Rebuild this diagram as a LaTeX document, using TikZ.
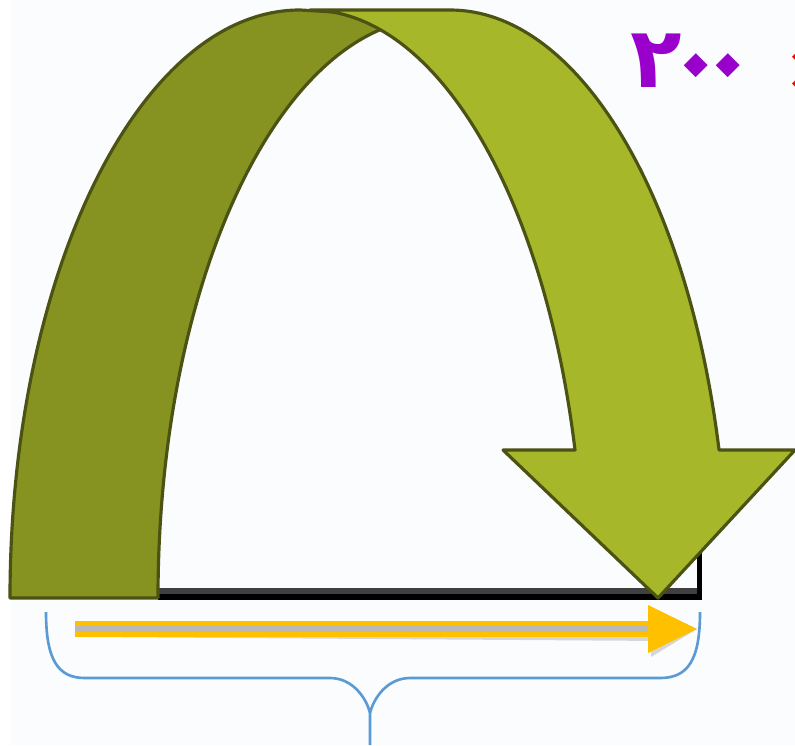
\documentclass[tikz,border=0pt]{standalone}
\usepackage{fontspec}
\usepackage{graphicx}
\usepackage{tikz}
\usetikzlibrary{arrows.meta}
\newfontfamily\arabicfont[Script=Arabic]{DejaVu Sans}
\definecolor{bgblue}{RGB}{250,252,254}
\definecolor{olivedark}{RGB}{134,147,32}
\definecolor{olivelight}{RGB}{166,183,42}
\definecolor{oliveline}{RGB}{75,82,19}
\definecolor{myyellow}{RGB}{255,192,0}
\definecolor{mypurple}{RGB}{153,0,204}
\definecolor{myred}{RGB}{255,0,0}
\definecolor{braceblue}{RGB}{91,155,213}
\newcommand{\pzero}{\makebox[9pt][c]{\raisebox{-0.6pt}{\rotatebox[origin=c]{45}{\fontsize{28}{28}\selectfont ۰}}}}

\begin{document}
\begin{tikzpicture}[x=0.01cm,y=0.01cm,
    band/.style={draw=oliveline,line width=0.9pt,line join=round},
    brace/.style={braceblue,line width=0.75pt}]
        \useasboundingbox (0,0) rectangle (795,745);
        \fill[white] (0,0) rectangle (795,745);
        \fill[bgblue] (10,0) rectangle (795,745);
        % base bar
        \fill[black] (158,145) rectangle (702,151);
        \fill[black!75] (158,151) rectangle (697,157);
        \fill[black] (697,145) rectangle (702,325);
        % back leg of the arch
        \draw[band,fill=olivedark](10,147) arc[start angle=180,end angle=90,x radius=290,y radius=588]
          --(436,727) arc[start angle=90,end angle=180,x radius=278,y radius=580]--cycle;
        % front band with the arrow head
        \draw[band,fill=olivelight](310,735)--(450,735)
          arc[start angle=90,end angle=14.58,x radius=278,y radius=588]
          --(795,295)--(658,147)--(503,295)--(575,295)
          arc[start angle=14.58,end angle=90,x radius=274,y radius=588]--cycle;
        % yellow arrow
        \coordinate (ys) at (75,116);
        \coordinate (ye) at (697,116);
        \begin{scope}[shift={(3,-4)},gray,opacity=0.3]
          \draw[line width=4.5pt](ys)--(650,116);
          \fill(648,140)--(ye)--(648,92)--cycle;
        \end{scope}
        \draw[draw=myyellow,double=gray!55,double distance=1.6pt,line width=1.45pt](ys)--(650,116);
        \fill[myyellow](648,140)--(ye)--(648,92)--cycle;
        % brace
        \coordinate (bl) at (46,133);
        \coordinate (br) at (700,133);
        \coordinate (bt) at (370,0);
        \draw[brace](bl)..controls(46,85)and(58,67)..(85,67)--(330,67)
          ..controls(352,67)and(366,48)..(370,32)--(bt);
        \draw[brace](370,32)..controls(374,48)and(388,67)..(410,67)--(660,67)
          ..controls(688,67)and(700,85)..(br);
        % numbers
        \node[mypurple,anchor=base west,inner sep=0pt,font=\arabicfont\bfseries\fontsize{24}{24}\selectfont] (num) at (630,657) {۲\kern1.5pt\pzero\pzero};
        \node[myred,anchor=west,inner sep=0pt,font=\arabicfont\bfseries\fontsize{18}{18}\selectfont] (mult) at (784,674) {×};
\end{tikzpicture}
\end{document}
